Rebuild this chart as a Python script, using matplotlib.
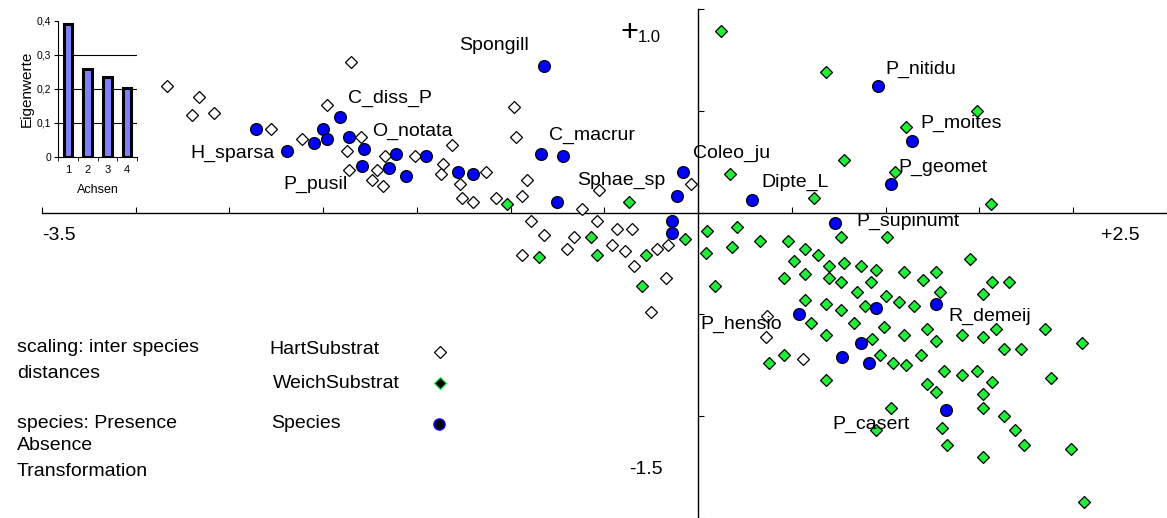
import numpy as np
from matplotlib import pyplot as plt

plt.rcParams['font.family'] = ['Liberation Sans', 'DejaVu Sans']

# ordination scores (axis 1 = x, axis 2 = y)
hart_x = [-2.83, -2.66, -2.70, -2.58, -2.28, -1.85, -1.98, -2.11, -1.80, -1.87,
          -1.86, -1.67, -1.71, -1.74, -1.68, -1.51, -1.31, -1.36, -1.37, -1.27,
          -1.26, -1.20, -1.13, -1.08, -0.98, -0.97, -0.91, -0.94, -0.62, -0.53,
          -0.04, -0.89, -0.82, -0.94, -0.70, -0.66, -0.54, -0.46, -0.43, -0.35,
          -0.39, -0.34, -0.22, -0.16, -0.17, -0.25, 0.37, 0.36, 0.56]
hart_y = [0.62, 0.57, 0.48, 0.49, 0.41, 0.74, 0.53, 0.36, 0.37, 0.30,
          0.21, 0.28, 0.21, 0.16, 0.13, 0.28, 0.33, 0.24, 0.19, 0.14,
          0.07, 0.05, 0.20, 0.07, 0.52, 0.37, 0.16, 0.08, 0.02, 0.11,
          0.14, -0.04, -0.11, -0.21, -0.18, -0.12, -0.04, -0.16, -0.08, -0.08,
          -0.19, -0.26, -0.18, -0.16, -0.32, -0.49, -0.51, -0.61, -0.72]

weich_x = [-1.02, -0.85, -0.57, -0.54, -0.37, -0.28, -0.30, -0.07, 0.12, 0.68,
           1.49, 1.11, 0.78, 0.17, 1.05, 0.62, 1.56, 0.05, 0.21, 0.33,
           0.48, 0.76, 1.01, 0.04, 0.18, 0.57, 0.64, 0.51, 0.70, 0.78,
           0.87, 0.95, 1.10, 1.20, 1.27, 1.45, 0.09, 0.46, 0.57, 0.70,
           0.76, 0.92, 0.85, 1.29, 1.57, 1.66, 1.52, 0.57, 0.68, 0.76,
           0.89, 1.00, 1.07, 1.15, 0.60, 0.83, 0.99, 1.22, 0.68, 0.93,
           1.10, 1.27, 1.41, 1.52, 1.59, 1.85, 2.05, 1.63, 1.72, 0.38,
           0.46, 0.97, 1.04, 1.11, 1.19, 0.68, 1.31, 1.41, 1.49, 1.57,
           1.88, 1.22, 1.27, 1.52, 1.03, 1.52, 1.63, 1.69, 1.30, 0.95,
           1.33, 1.74, 1.99, 1.52, 2.06]
weich_y = [0.04, -0.22, -0.12, -0.21, 0.05, -0.21, -0.36, -0.13, 0.89, 0.69,
           0.50, 0.42, 0.26, 0.19, 0.20, 0.07, 0.04, -0.09, -0.07, -0.14,
           -0.14, -0.12, -0.12, -0.20, -0.17, -0.18, -0.21, -0.24, -0.26, -0.25,
           -0.26, -0.28, -0.29, -0.33, -0.29, -0.23, -0.36, -0.32, -0.30, -0.32,
           -0.34, -0.34, -0.39, -0.39, -0.34, -0.34, -0.40, -0.43, -0.45, -0.48,
           -0.46, -0.41, -0.44, -0.46, -0.54, -0.54, -0.56, -0.57, -0.60, -0.62,
           -0.60, -0.63, -0.60, -0.61, -0.57, -0.57, -0.64, -0.67, -0.67, -0.74,
           -0.70, -0.70, -0.74, -0.75, -0.70, -0.82, -0.78, -0.80, -0.78, -0.83,
           -0.81, -0.84, -0.88, -0.89, -0.96, -0.96, -1.00, -1.07, -1.06, -1.07,
           -1.14, -1.14, -1.16, -1.20, -1.42]

species_x = [-2.36, -2.19, -2.00, -2.05, -1.98, -1.91, -1.86, -1.78, -1.79, -1.65,
             -1.61, -1.56, -1.45, -1.28, -1.20, -0.82, -0.84, -0.72, -0.75, -0.08,
             -0.11, -0.14, -0.14, 0.96, 1.14, 1.03, 0.29, 0.73, 0.54, 0.95,
             1.27, 0.87, 0.77, 0.91, 1.32]
species_y = [0.41, 0.30, 0.41, 0.34, 0.36, 0.47, 0.37, 0.31, 0.23, 0.22,
             0.29, 0.18, 0.28, 0.20, 0.19, 0.72, 0.29, 0.28, 0.05, 0.20,
             0.08, -0.04, -0.10, 0.62, 0.35, 0.14, 0.06, -0.05, -0.50, -0.47,
             -0.45, -0.64, -0.71, -0.74, -0.97]

# labelled species: name -> index in species arrays
label_names = ['H_sparsa', 'C_diss_P', 'O_notata', 'P_pusil', 'Spongill', 'C_macrur',
               'Sphae_sp', 'Coleo_ju', 'Dipte_L', 'P_nitidu', 'P_moites', 'P_geomet',
               'P_supinumt', 'P_hensio', 'R_demeij', 'P_casert']
label_index = [1, 5, 7, 8, 15, 16, 18, 19, 26, 23, 24, 25, 27, 28, 30, 34]
# where each label sits relative to its point (pixels) and how it is aligned
label_offset = [(-13, -2), (8, 18), (8, 18), (-15, -19), (-15, 20), (8, 18),
                (20, 22), (10, 18), (9, 18), (7, 17), (9, 18), (7, 17),
                (21, 1), (-17, -10), (12, -12), (-36, -14)]
label_ha = ['right', 'left', 'left', 'right', 'right', 'left', 'left', 'left', 'left',
            'left', 'left', 'left', 'left', 'right', 'left', 'right']

# eigenvalues of the first four axes
eig_axes = [1, 2, 3, 4]
eig_values = [0.39, 0.26, 0.235, 0.203]

green = '#22ee3a'

fig = plt.figure(figsize=(11.67, 5.18), dpi=100)
ax = fig.add_axes([0, 0, 1, 1])
ax.set_xlim(-3.7227, 2.5013)
ax.set_ylim(-1.483, 1.044)

# axes crossing at the origin
for s in ['top', 'right']:
    ax.spines[s].set_visible(False)
ax.spines['left'].set_position(('data', 0))
ax.spines['bottom'].set_position(('data', 0))
ax.spines['bottom'].set_bounds(-3.5, 2.5)
ax.spines['left'].set_bounds(-1.5, 1.0)
ax.spines['left'].set_linewidth(1.0)
ax.spines['bottom'].set_linewidth(1.0)
ax.set_xticks(np.arange(-3.5, 2.51, 0.5))
ax.set_yticks(np.arange(-1.5, 1.01, 0.5))
ax.tick_params(direction='in', length=4, width=0.8, labelbottom=False, labelleft=False)
ax.patch.set_visible(False)

ax.plot(hart_x, hart_y, 'D', ms=6.5, mfc='white', mec='black', mew=0.9, ls='none', zorder=3)
ax.plot(weich_x, weich_y, 'D', ms=6.5, mfc=green, mec='black', mew=0.9, ls='none', zorder=3)
ax.plot(species_x, species_y, 'o', ms=8.5, mfc='#0000ff', mec='black', mew=0.9, ls='none', zorder=4)

for name, i, off, ha in zip(label_names, label_index, label_offset, label_ha):
    ax.annotate(name, (species_x[i], species_y[i]), xytext=off, textcoords='offset pixels',
                ha=ha, va='center', fontsize=14, zorder=5)

# axis end labels
ax.text(42 / 1167, 1 - 235 / 518, '-3.5', transform=ax.transAxes, fontsize=14, ha='left', va='center')
ax.text(1140 / 1167, 1 - 235 / 518, '+2.5', transform=ax.transAxes, fontsize=14, ha='right', va='center')
ax.text(663 / 1167, 1 - 469 / 518, '-1.5', transform=ax.transAxes, fontsize=14, ha='right', va='center')
ax.text(629 / 1167, 1 - 33 / 518, '+', transform=ax.transAxes, fontsize=22, ha='center', va='center')
ax.text(638 / 1167, 1 - 38 / 518, '1.0', transform=ax.transAxes, fontsize=12, ha='left', va='center')

# notes and legend at lower left
notes = [('scaling: inter species', 348), ('distances', 373), ('species: Presence', 423),
         ('Absence', 446), ('Transformation', 471)]
for t, py in notes:
    ax.text(17 / 1167, 1 - py / 518, t, transform=ax.transAxes, fontsize=14, ha='left', va='center')
legend_rows = [('HartSubstrat', 269, 350), ('WeichSubstrat', 273, 383), ('Species', 271, 423)]
for t, px, py in legend_rows:
    ax.text(px / 1167, 1 - py / 518, t, transform=ax.transAxes, fontsize=14, ha='left', va='center')
ax.plot([440 / 1167], [1 - 352 / 518], 'D', ms=6.5, mfc='white', mec='black', mew=0.9,
        transform=ax.transAxes)
ax.plot([440 / 1167], [1 - 383 / 518], 'D', ms=6.5, mfc='black', mec=green, mew=0.9,
        transform=ax.transAxes)
ax.plot([439 / 1167], [1 - 424 / 518], 'o', ms=8, mfc='black', mec='#0000ff', mew=1.0,
        transform=ax.transAxes)

# eigenvalue inset
ins = fig.add_axes([58 / 1167, 1 - 157 / 518, 79 / 1167, 136 / 518])
ins.bar(eig_axes, eig_values, width=0.42, color='#8080ff', edgecolor='black', linewidth=2.2, zorder=3)
ins.set_xlim(0.5, 4.5)
ins.set_ylim(0, 0.4)
ins.set_yticks([0, 0.1, 0.2, 0.3, 0.4])
ins.set_yticklabels(['0', '0,1', '0,2', '0,3', '0,4'], fontsize=7.5)
for v in [0.1, 0.2, 0.3]:
    ins.axhline(v, color='black', lw=0.8, zorder=1)
ins.set_xticks(eig_axes)
ins.set_xticklabels([str(a) for a in eig_axes], fontsize=8)
ins.set_xticks([0.5, 1.5, 2.5, 3.5, 4.5], minor=True)
ins.tick_params(axis='x', which='major', length=0, pad=6)
ins.tick_params(axis='x', which='minor', length=3, direction='out')
ins.tick_params(axis='y', length=3, direction='out', pad=2)
ins.spines['top'].set_visible(False)
ins.spines['right'].set_visible(False)
ins.set_ylabel('Eigenwerte', fontsize=11, labelpad=2)
ins.set_xlabel('Achsen', fontsize=9, labelpad=6)
ins.patch.set_visible(False)

fig.savefig('out.png', dpi=100)
